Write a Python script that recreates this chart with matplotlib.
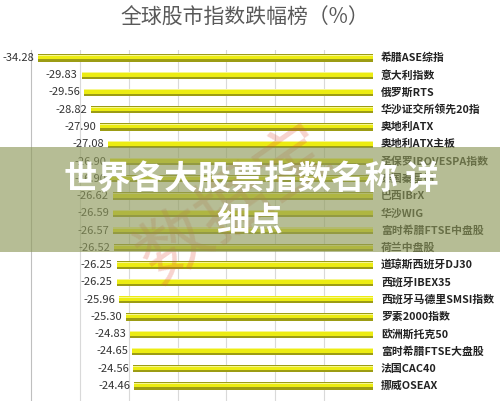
import matplotlib
matplotlib.use('Agg')
import matplotlib.pyplot as plt
from matplotlib.patches import Rectangle

plt.rcParams['font.family'] = ['Noto Sans CJK SC', 'DejaVu Sans']

# 指数名称与跌幅（%）
names = ['希腊ASE综指', '意大利指数', '俄罗斯RTS', '华沙证交所领先20指', '奥地利ATX',
         '奥地利ATX主板', '圣保罗IBOVESPA指数', '泰国秦星指', '巴西IBrX', '华沙WIG',
         '富时希腊FTSE中盘股', '荷兰中盘股', '道琼斯西班牙DJ30', '西班牙IBEX35',
         '西班牙马德里SMSI指数', '罗素2000指数', '欧洲斯托克50', '富时希腊FTSE大盘股',
         '法国CAC40', '挪威OSEAX']
values = [-34.28, -29.83, -29.56, -28.82, -27.90, -27.08, -26.90, -26.90, -26.62, -26.59,
          -26.57, -26.52, -26.25, -26.25, -25.96, -25.30, -24.83, -24.65, -24.56, -24.46]
grid_ticks = [-30, -25, -20, -15, -10, -5]

W, H = 500, 401
fig = plt.figure(figsize=(W / 100, H / 100), dpi=100)
fig.patch.set_facecolor('white')

# 标题
fig.text(245 / W, 1 - 18 / H, '全球股市指数跌幅榜（%）', ha='center', va='center',
         fontsize=15, color='#595959', fontweight='medium')

ax = fig.add_axes([31 / W, 0, 342 / W, 351 / H])
ax.set_xlim(-35, 0)
ax.set_ylim(19.87, -0.46)
for s in ['top', 'right', 'bottom']:
    ax.spines[s].set_visible(False)
ax.spines['left'].set_color('#bfbfbf')
ax.spines['left'].set_linewidth(0.8)
ax.set_xticks([])
ax.set_yticks([])
for g in grid_ticks:
    ax.axvline(g, color='#d9d9d9', lw=0.8, zorder=0)

ys = list(range(len(names)))
# 立体感：暗边 + 亮黄中间
ax.barh(ys, values, left=0, height=0.42, color='#9c9c14', zorder=2)
ax.barh([y - 0.05 for y in ys], values, height=0.27, color='#ecec12', zorder=3)
ax.barh([y - 0.15 for y in ys], values, height=0.06, color='#f6f690', zorder=3)

for y, v, n in zip(ys, values, names):
    ax.annotate(f'{v:.2f}', (v, y), xytext=(-4, 0), textcoords='offset pixels',
                ha='right', va='center', fontsize=8, color='#333333',
                annotation_clip=False)
    ax.annotate(n, (0, y), xytext=(8, 0), textcoords='offset pixels',
                ha='left', va='center', fontsize=7.8, color='#222222',
                fontweight='bold', annotation_clip=False)

# 水印
fig.text(235 / W, 1 - 205 / H, '数据宝', ha='center', va='center', fontsize=52,
         rotation=35, color='#e0503c', alpha=0.25, zorder=5)

# 半透明横幅
band = Rectangle((0, (H - 252) / H), 1, 105 / H, transform=fig.transFigure,
                 facecolor='#8f9a5c', alpha=0.65, edgecolor='none', zorder=10)
fig.patches.append(band)
fig.text(251 / W, 1 - 180 / H, '世界各大股票指数名称 详', ha='center', va='center',
         fontsize=24, fontweight='bold', color='white', zorder=11)
fig.text(250 / W, 1 - 222 / H, '细点', ha='center', va='center',
         fontsize=24, fontweight='bold', color='white', zorder=11)

fig.savefig('out.png', dpi=100)
